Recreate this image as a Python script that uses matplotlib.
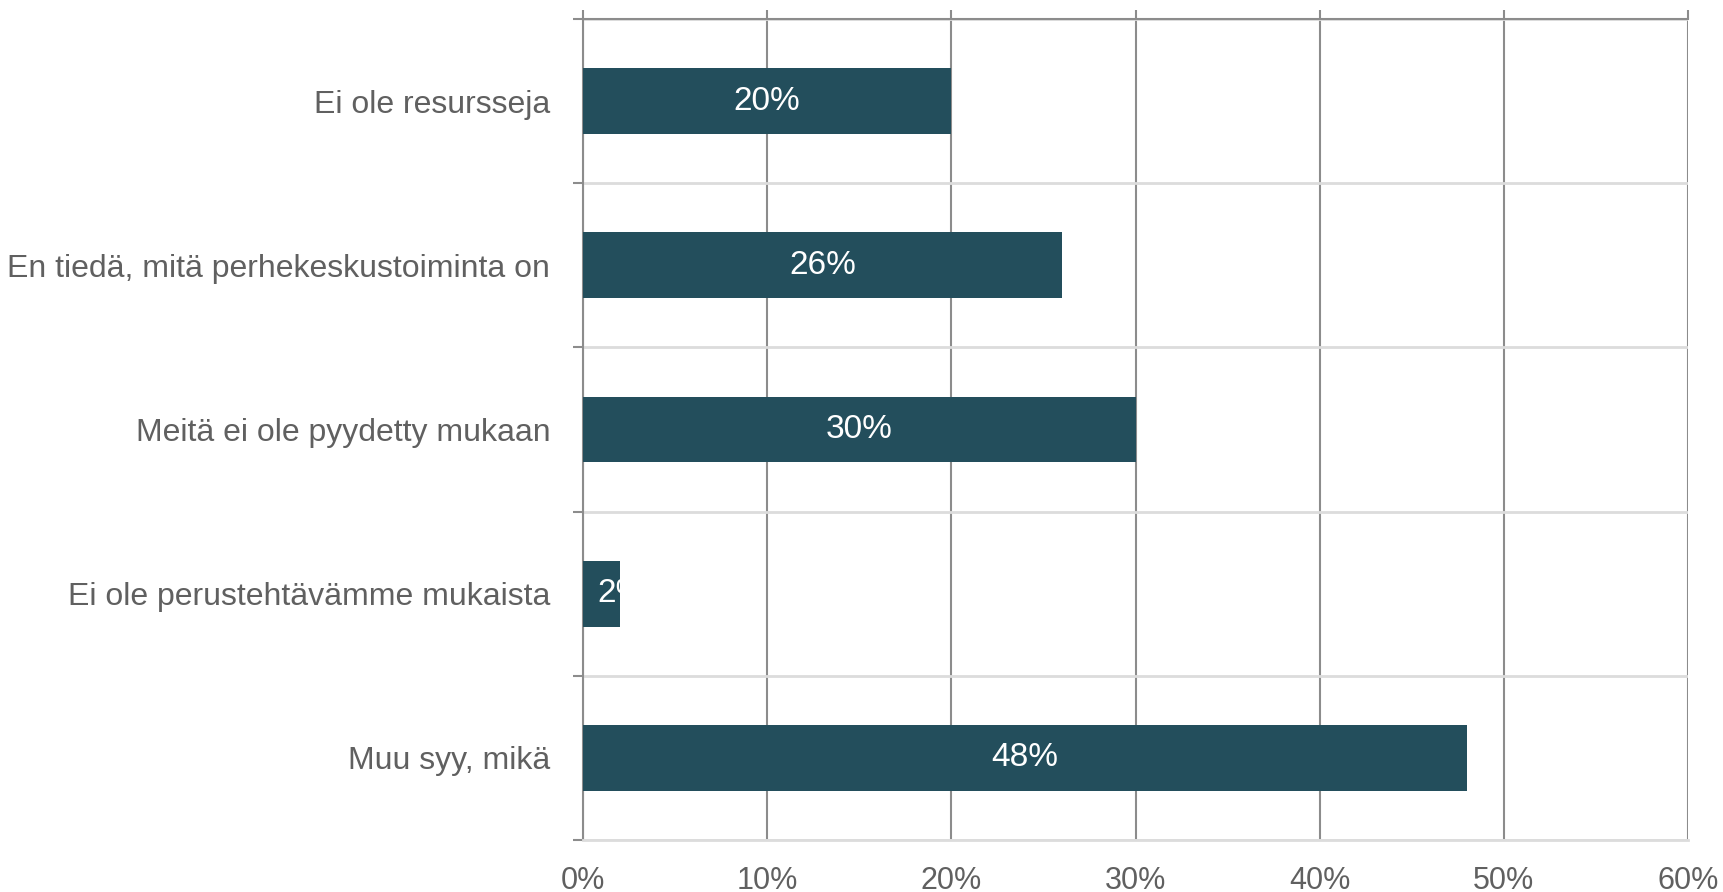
import numpy as np
import matplotlib.pyplot as plt

plt.rcParams['font.family'] = ['Liberation Sans', 'DejaVu Sans']

categories = ["Ei ole resursseja",
              "En tiedä, mitä perhekeskustoiminta on",
              "Meitä ei ole pyydetty mukaan",
              "Ei ole perustehtävämme mukaista",
              "Muu syy, mikä"]
values = [20, 26, 30, 2, 48]
xticks = [0, 10, 20, 30, 40, 50, 60]

bar_color = '#234e5c'
dark_grid = '#8c8c8c'
light_grid = '#dcdcdc'
text_color = '#606060'

fig = plt.figure(figsize=(17.23, 8.92), dpi=100)
ax = fig.add_axes([583 / 1723, 52 / 892, 1105 / 1723, 821 / 892])

y = np.arange(len(categories))
bars = ax.barh(y, values, height=0.4, color=bar_color, zorder=3)

ax.set_xlim(0, 60)
ax.set_ylim(len(categories) - 0.5, -0.5)

# vertical grid at the percent ticks
ax.set_xticks(xticks)
ax.set_xticklabels([f"{t}%" for t in xticks])
ax.xaxis.grid(True, color=dark_grid, linewidth=1.5, zorder=1)
ax.tick_params(axis='x', which='major', bottom=False, top=True, direction='out',
               length=6.5, width=1.5, color=dark_grid, labelsize=22,
               labelcolor=text_color, pad=12)

# category boundaries
bounds = np.arange(-0.5, len(categories), 1.0)
ax.set_yticks(y)
ax.set_yticklabels(categories)
ax.set_yticks(bounds, minor=True)
ax.yaxis.grid(True, which='minor', color=light_grid, linewidth=2, zorder=1)
ax.tick_params(axis='y', which='major', left=False, labelsize=23,
               labelcolor=text_color, pad=20)
ax.tick_params(axis='y', which='minor', left=True, direction='out',
               length=7, width=1.5, color=dark_grid)

for side in ['left', 'top']:
    ax.spines[side].set_color(dark_grid)
    ax.spines[side].set_linewidth(1.5)
ax.spines['bottom'].set_color(light_grid)
ax.spines['bottom'].set_linewidth(2)
ax.spines['right'].set_visible(False)

for bar, v, yy in zip(bars, values, y):
    if v < 5:
        t = ax.text(0.8, yy, f"{v}%", ha='left', va='center', color='white',
                    fontsize=24, zorder=4)
    else:
        t = ax.text(v / 2, yy, f"{v}%", ha='center', va='center', color='white',
                    fontsize=24, zorder=4)
    t.set_clip_path(bar)

fig.savefig('out.png', dpi=100)
